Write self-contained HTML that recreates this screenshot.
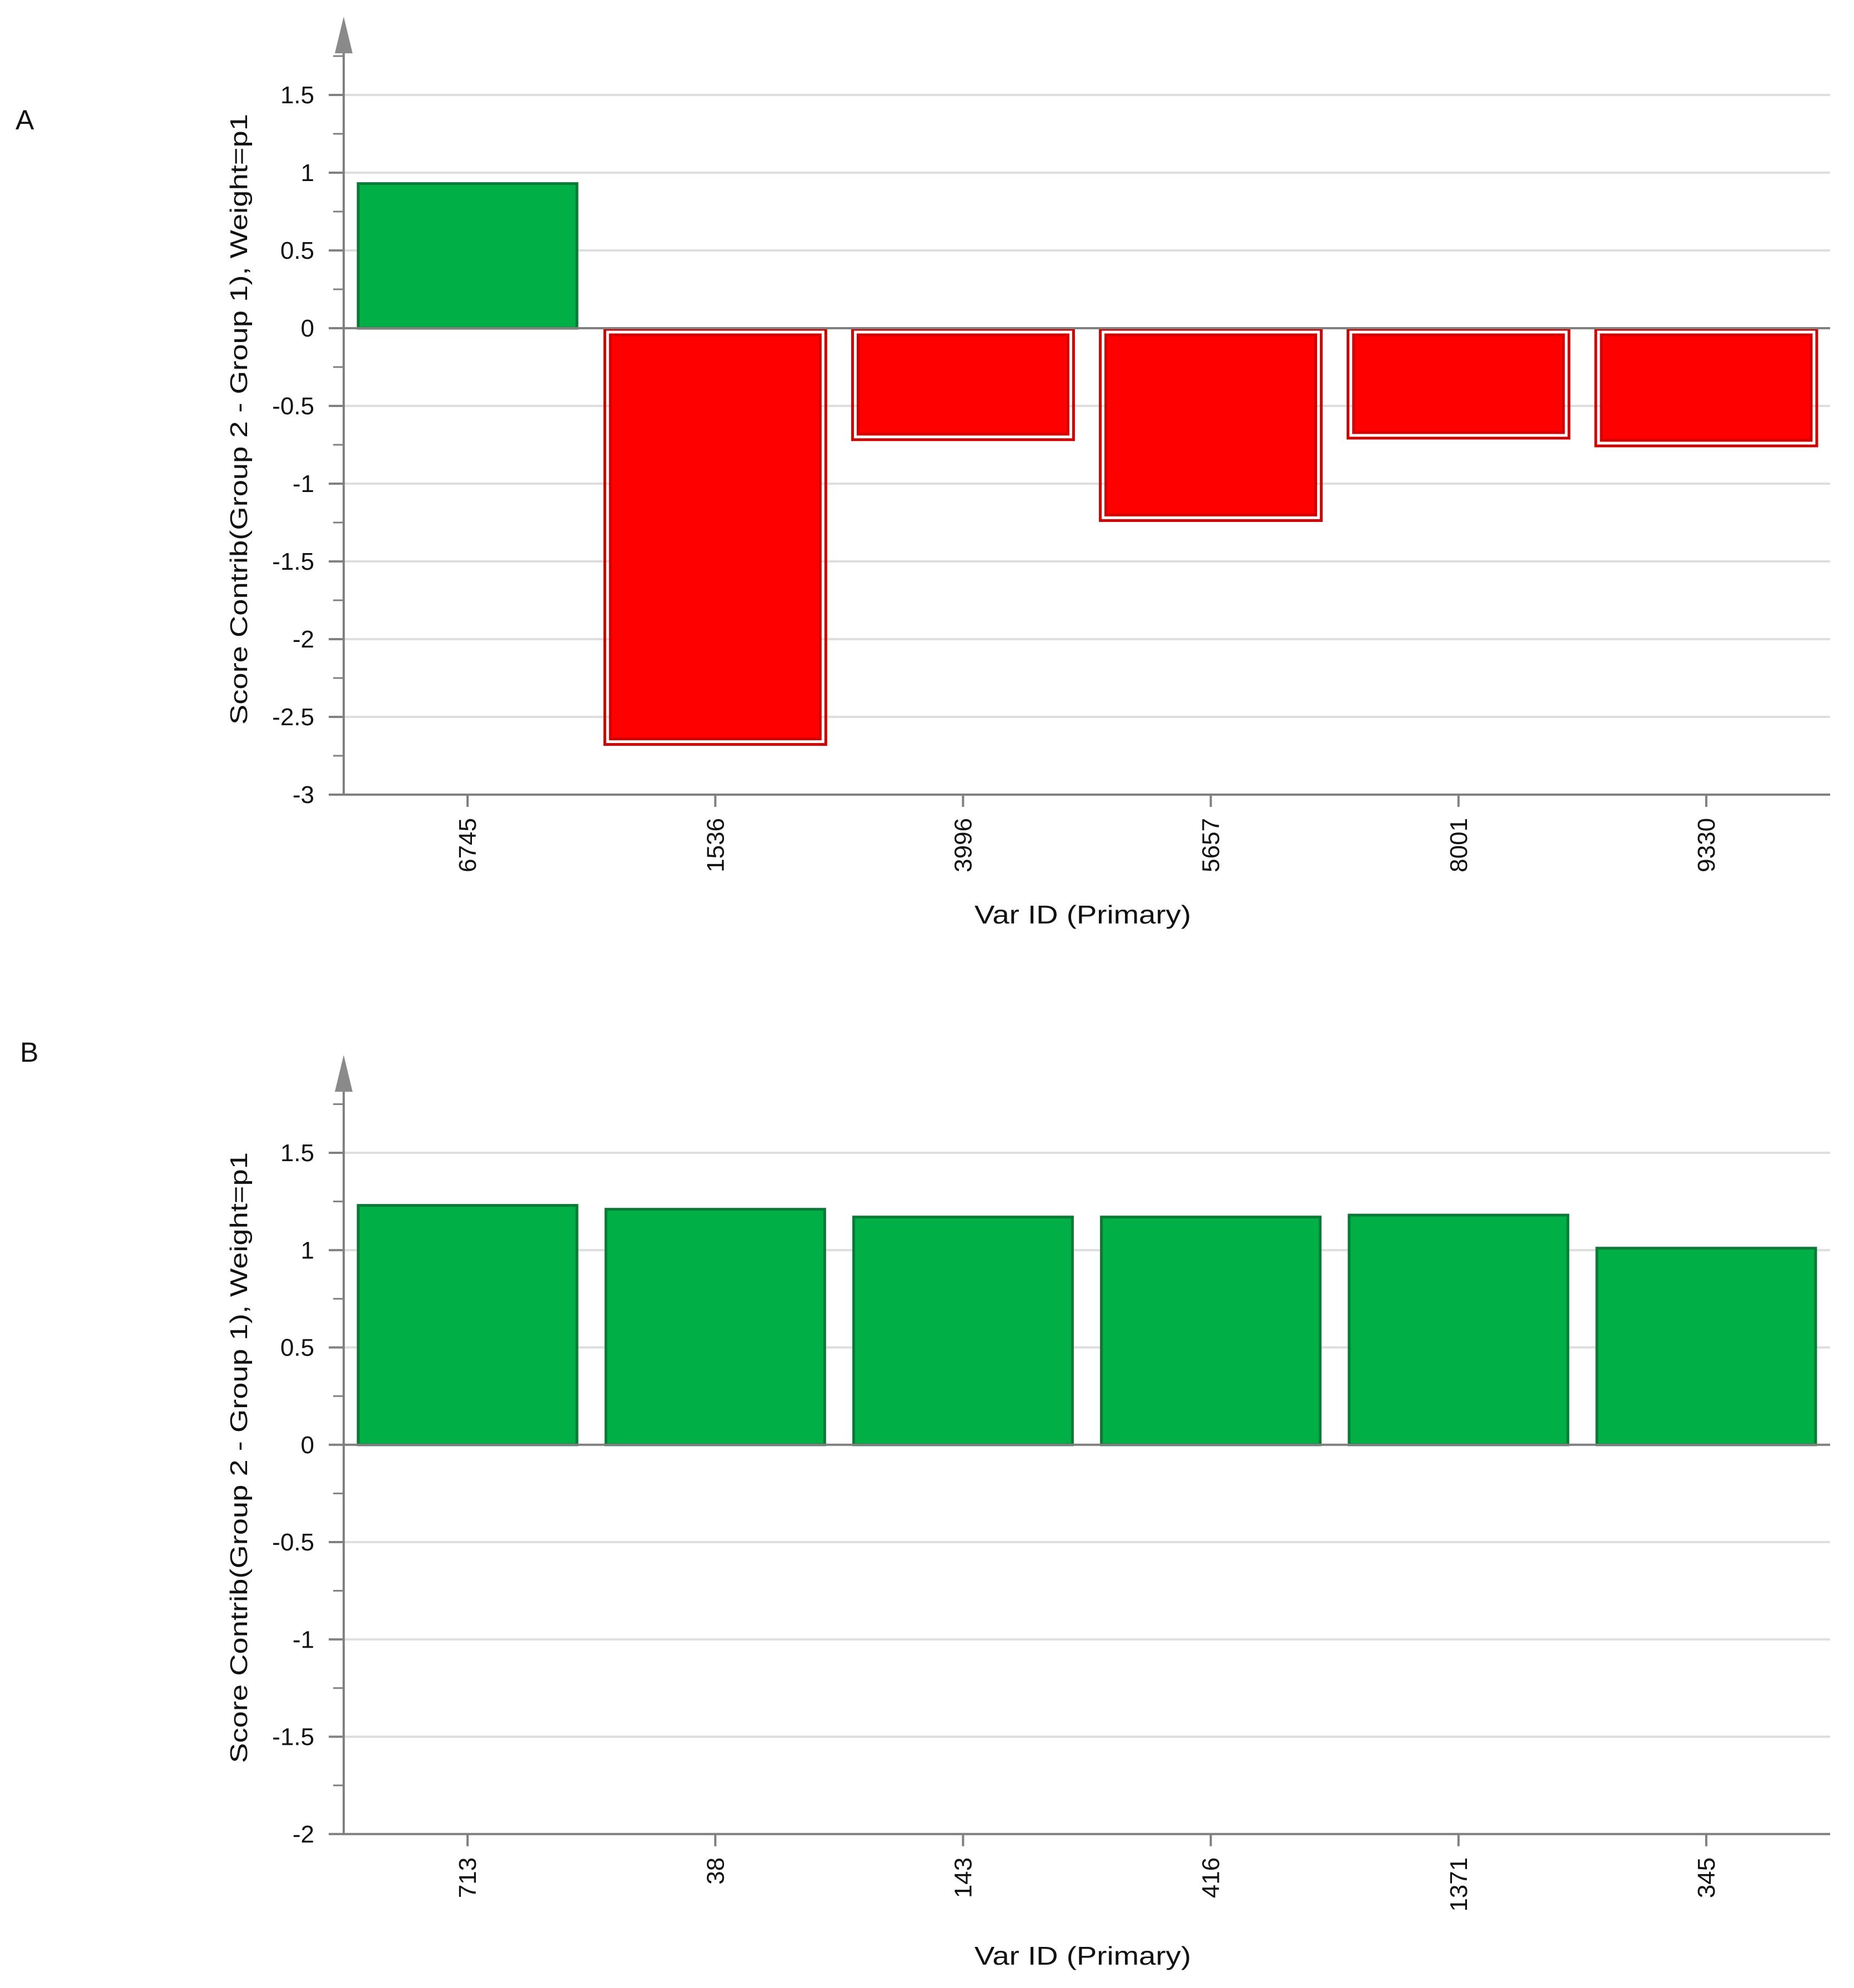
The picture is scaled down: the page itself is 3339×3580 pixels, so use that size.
<!DOCTYPE html>
<html><head><meta charset="utf-8"><style>
html,body{margin:0;padding:0;background:#fff}
svg{display:block}
text{font-family:"Liberation Sans",sans-serif;fill:#111}
</style></head><body>
<svg id="chart" width="3339" height="3580" viewBox="0 0 3339 3580" xmlns="http://www.w3.org/2000/svg">
<text x="28" y="233" font-size="50">A</text>
<text x="36" y="1912" font-size="50">B</text>
</svg>
<script>
const catsA = ["6745","1536","3996","5657","8001","9330"];
const valsA = [0.93,-2.67,-0.71,-1.23,-0.70,-0.75];
const ticksA = [1.5,1,0.5,0,-0.5,-1,-1.5,-2,-2.5,-3];
const catsB = ["713","38","143","416","1371","345"];
const valsB = [1.23,1.21,1.17,1.17,1.18,1.01];
const ticksB = [1.5,1,0.5,0,-0.5,-1,-1.5,-2];

const NS = "http://www.w3.org/2000/svg";
const svg = document.getElementById('chart');
function mk(tag, attrs, parent){
  const e = document.createElementNS(NS, tag);
  for (const k in attrs) e.setAttribute(k, attrs[k]);
  (parent||svg).appendChild(e);
  return e;
}

function panel(id, cats, vals, ticks, cfg){
  const g = mk('g', {});
  
  
  const L = 619, R = 3296;
  const yMax = ticks[0], yMin = ticks[ticks.length-1];
  const y = v => cfg.top + (yMax - v) * cfg.unit;
  const band = (R - L) / cats.length;
  const x = i => L + band * (i + 0.5);
  // minor ticks
  for (let v = yMin; v <= yMax + 0.3; v += 0.25) {
    if (v > yMax + 0.26) break;
    const t = mk('line', {x1:600, x2:L, y1:y(v), y2:y(v), stroke:'#808080','stroke-width':3}, g);
    
    
  }
  ticks.forEach(v => {
    const gl = mk('line', {x1:L, x2:R, y1:y(v), y2:y(v), stroke:'#dedede','stroke-width':4}, g);
    
    
    const tk = mk('line', {x1:592, x2:L, y1:y(v), y2:y(v), stroke:'#808080','stroke-width':4}, g);
    
    
    const tl = mk('text', {x:566, y:y(v)+15, 'font-size':44, 'text-anchor':'end'}, g);
    tl.textContent = String(v);
    
    
  });
  // bars
  vals.forEach((v, i) => {
    const cx = x(i), y0 = y(0), y1 = y(v);
    if (v >= 0) {
      const b = mk('rect', {x:cx-197, y:y1, width:394, height:y0-y1, fill:'#00b046', stroke:'#0b7a36','stroke-width':5}, g);
      
      
    } else {
      const o = mk('rect', {x:cx-199, y:y0+2, width:398, height:y1-y0, fill:'none', stroke:'#cc0000','stroke-width':5}, g);
      
      
      const b = mk('rect', {x:cx-189, y:y0+12, width:378, height:y1-y0-20, fill:'#ff0000', stroke:'#d40000','stroke-width':5}, g);
      
      
    }
    const xt = mk('line', {x1:cx, x2:cx, y1:y(yMin), y2:y(yMin)+22, stroke:'#808080','stroke-width':4}, g);
    
    
    const xl = mk('text', {x:0, y:0, 'font-size':44, 'text-anchor':'end', transform:`translate(${cx+15},${y(yMin)+42}) rotate(-90)`}, g);
    xl.textContent = cats[i];
    
    
  });
  // axes
  const xa = mk('line', {x1:L, x2:R, y1:y(0), y2:y(0), stroke:'#808080','stroke-width':4}, g);
  
  
  const xb = mk('line', {x1:L, x2:R, y1:y(yMin), y2:y(yMin), stroke:'#808080','stroke-width':4}, g);
  
  
  const ya = mk('line', {x1:L, x2:L, y1:cfg.arrowTop+60, y2:y(yMin)+2, stroke:'#808080','stroke-width':4}, g);
  
  
  const ar = mk('polygon', {points:`${L},${cfg.arrowTop} ${L-16},${cfg.arrowTop+66} ${L+16},${cfg.arrowTop+66}`, fill:'#8a8a8a'}, g);
  
  
  const yt = mk('text', {x:0, y:0, 'font-size':44, 'text-anchor':'middle', textLength:1100, lengthAdjust:'spacingAndGlyphs', transform:`translate(${445},${cfg.titleY}) rotate(-90)`}, g);
  yt.textContent = 'Score Contrib(Group 2 - Group 1), Weight=p1';
  
  
  const xtt = mk('text', {x:1950, y:cfg.xTitleY, 'font-size':46, 'text-anchor':'middle', textLength:390, lengthAdjust:'spacingAndGlyphs'}, g);
  xtt.textContent = 'Var ID (Primary)';
  
  
}
panel('panel-a', catsA, valsA, ticksA, {top:171, unit:280, arrowTop:30, titleY:755, xTitleY:1663});
panel('panel-b', catsB, valsB, ticksB, {top:2076, unit:350.5, arrowTop:1900, titleY:2625, xTitleY:3538});
</script>
</body></html>
